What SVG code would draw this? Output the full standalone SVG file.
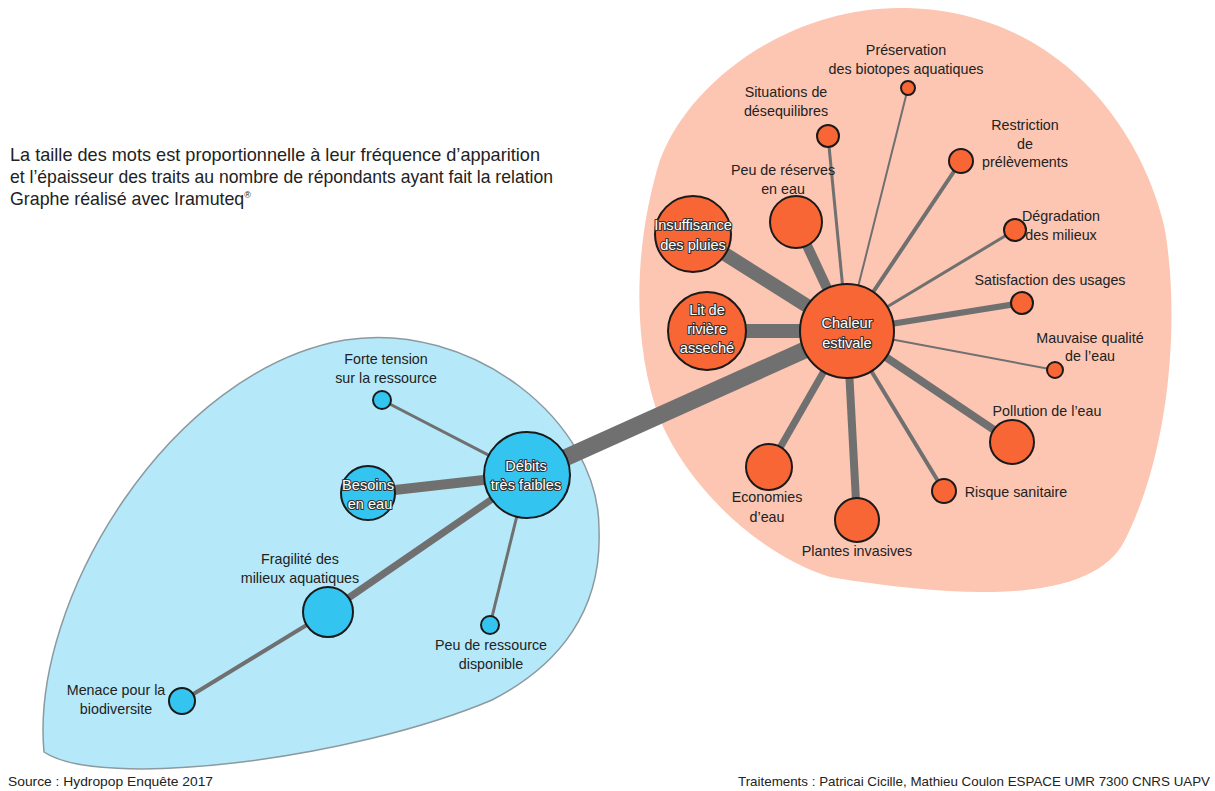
<svg xmlns="http://www.w3.org/2000/svg" width="1215" height="791" viewBox="0 0 1215 791">
<style>
text{font-family:"Liberation Sans",Arial,sans-serif;fill:#222;}
.lbl{font-size:14.3px;text-anchor:middle;}
.in{font-size:14.6px;text-anchor:middle;fill:#fff;stroke:#333;stroke-width:2.2px;paint-order:stroke;stroke-linejoin:round;}
.hdr{font-size:17.8px;}
.ft{font-size:13px;}
.o{fill:#f86635;stroke:#1a1a1a;stroke-width:2;}
.b{fill:#33c5f0;stroke:#1a1a1a;stroke-width:2;}
#edges line{stroke:#707070;}
</style>
<rect width="1215" height="791" fill="#fff"/>
<path id="blob-orange" d="M900 8 C1050 8 1140 120 1165 230 C1180 320 1170 450 1125 540 C1095 600 980 602 830 577 C760 555 690 490 660 420 C630 340 635 240 660 160 C690 80 790 8 900 8 Z" fill="#fcc6b2"/>
<path id="blob-blue" d="M44 752 C30 600 170 370 345 340 C470 320 600 420 599 530 C602 610 560 665 492 700 C350 760 100 790 44 752 Z" fill="#b5e9f9" stroke="#8b9aa0" stroke-width="1.5"/>
<g id="header">
<text class="hdr" x="10" y="161" textLength="530" lengthAdjust="spacingAndGlyphs">La taille des mots est proportionnelle à leur fréquence d’apparition</text>
<text class="hdr" x="10" y="183" textLength="543" lengthAdjust="spacingAndGlyphs">et l’épaisseur des traits au nombre de répondants ayant fait la relation</text>
<text class="hdr" x="10" y="205">Graphe réalisé avec Iramuteq<tspan font-size="9" dy="-7">®</tspan></text>
</g>
<g id="edges">
<line x1="847" y1="331" x2="527" y2="475" stroke-width="17"/>
<line x1="847" y1="331" x2="693" y2="234" stroke-width="14"/>
<line x1="847" y1="331" x2="707" y2="331" stroke-width="14"/>
<line x1="847" y1="331" x2="796" y2="222" stroke-width="10"/>
<line x1="847" y1="331" x2="828" y2="136" stroke-width="3"/>
<line x1="847" y1="331" x2="908" y2="88" stroke-width="2"/>
<line x1="847" y1="331" x2="961" y2="161" stroke-width="4"/>
<line x1="847" y1="331" x2="1015" y2="230" stroke-width="3"/>
<line x1="847" y1="331" x2="1022" y2="303" stroke-width="6"/>
<line x1="847" y1="331" x2="1055" y2="370" stroke-width="2"/>
<line x1="847" y1="331" x2="1012" y2="442" stroke-width="8"/>
<line x1="847" y1="331" x2="944" y2="491" stroke-width="4"/>
<line x1="847" y1="331" x2="857" y2="520" stroke-width="8"/>
<line x1="847" y1="331" x2="769" y2="467" stroke-width="7"/>
<line x1="527" y1="475" x2="368" y2="493" stroke-width="10"/>
<line x1="527" y1="475" x2="382" y2="400" stroke-width="3"/>
<line x1="527" y1="475" x2="328" y2="612" stroke-width="7"/>
<line x1="527" y1="475" x2="490" y2="625" stroke-width="3"/>
<line x1="328" y1="612" x2="182" y2="701" stroke-width="4"/>
</g>
<g id="n-chaleur"><circle class="o" cx="847" cy="331" r="47"/><text class="in" x="847" y="328">Chaleur</text><text class="in" x="847" y="348">estivale</text></g>
<g id="n-insuffisance"><circle class="o" cx="693" cy="234" r="38"/><text class="in" x="693" y="230">Insuffisance</text><text class="in" x="693" y="250">des pluies</text></g>
<g id="n-lit"><circle class="o" cx="707" cy="331" r="39"/><text class="in" x="707" y="315">Lit de</text><text class="in" x="707" y="334">rivière</text><text class="in" x="707" y="353">asseché</text></g>
<g id="n-reserves"><circle class="o" cx="796" cy="222" r="26"/><text class="lbl" x="783" y="175">Peu de réserves</text><text class="lbl" x="783" y="194">en eau</text></g>
<g id="n-situations"><circle class="o" cx="828" cy="136" r="11"/><text class="lbl" x="786" y="97">Situations de</text><text class="lbl" x="786" y="116">désequilibres</text></g>
<g id="n-preservation"><circle class="o" cx="908" cy="88" r="7"/><text class="lbl" x="906" y="55">Préservation</text><text class="lbl" x="906" y="74">des biotopes aquatiques</text></g>
<g id="n-restriction"><circle class="o" cx="961" cy="161" r="12"/><text class="lbl" x="1025" y="130">Restriction</text><text class="lbl" x="1025" y="149">de</text><text class="lbl" x="1025" y="167">prélèvements</text></g>
<g id="n-degradation"><circle class="o" cx="1015" cy="230" r="11"/><text class="lbl" x="1061" y="221">Dégradation</text><text class="lbl" x="1061" y="240">des milieux</text></g>
<g id="n-satisfaction"><circle class="o" cx="1022" cy="303" r="11"/><text class="lbl" x="1050" y="285">Satisfaction des usages</text></g>
<g id="n-mauvaise"><circle class="o" cx="1055" cy="370" r="8"/><text class="lbl" x="1090" y="343">Mauvaise qualité</text><text class="lbl" x="1090" y="361">de l’eau</text></g>
<g id="n-pollution"><circle class="o" cx="1012" cy="442" r="22"/><text class="lbl" x="1047" y="416">Pollution de l’eau</text></g>
<g id="n-risque"><circle class="o" cx="944" cy="491" r="12"/><text class="lbl" x="1016" y="497">Risque sanitaire</text></g>
<g id="n-plantes"><circle class="o" cx="857" cy="520" r="22"/><text class="lbl" x="857" y="556">Plantes invasives</text></g>
<g id="n-economies"><circle class="o" cx="769" cy="467" r="23"/><text class="lbl" x="767" y="502">Economies</text><text class="lbl" x="767" y="522">d’eau</text></g>
<g id="n-debits"><circle class="b" cx="527" cy="475" r="43"/><text class="in" x="526" y="471">Débits</text><text class="in" x="526" y="490">très faibles</text></g>
<g id="n-besoins"><circle class="b" cx="368" cy="493" r="27"/><text class="in" x="368" y="490">Besoins</text><text class="in" x="370" y="509">en eau</text></g>
<g id="n-forte"><circle class="b" cx="382" cy="400" r="9"/><text class="lbl" x="386" y="364">Forte tension</text><text class="lbl" x="386" y="383">sur la ressource</text></g>
<g id="n-fragilite"><circle class="b" cx="328" cy="612" r="25"/><text class="lbl" x="300" y="564">Fragilité des</text><text class="lbl" x="300" y="583">milieux aquatiques</text></g>
<g id="n-peu-ressource"><circle class="b" cx="490" cy="625" r="9"/><text class="lbl" x="491" y="650">Peu de ressource</text><text class="lbl" x="491" y="669">disponible</text></g>
<g id="n-menace"><circle class="b" cx="182" cy="701" r="13"/><text class="lbl" x="116" y="695">Menace pour la</text><text class="lbl" x="116" y="714">biodiversite</text></g>
<g id="footer">
<text class="ft" x="8" y="786" textLength="205" lengthAdjust="spacingAndGlyphs">Source : Hydropop Enquête 2017</text>
<text class="ft" x="738" y="786" textLength="472" lengthAdjust="spacingAndGlyphs">Traitements : Patricai Cicille, Mathieu Coulon ESPACE UMR 7300 CNRS UAPV</text>
</g>
</svg>
